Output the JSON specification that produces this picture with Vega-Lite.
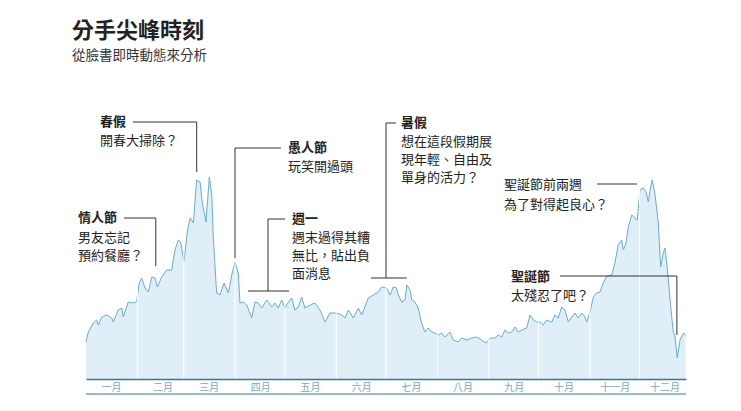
{
  "$schema": "https://vega.github.io/schema/vega-lite/v6.json",
  "width": 600,
  "height": 279,
  "autosize": "none",
  "padding": {"left": 86, "top": 100, "right": 55, "bottom": 32},
  "background": "white",
  "config": {"view": {"stroke": null}, "font": "Noto Sans CJK TC"},
  "title": {
    "text": "分手尖峰時刻",
    "subtitle": "從臉書即時動態來分析",
    "anchor": "start",
    "frame": "group",
    "offset": 36,
    "dx": -14,
    "font": "Noto Sans CJK TC",
    "subtitleFont": "Noto Sans CJK TC",
    "fontSize": 22,
    "fontWeight": "bold",
    "subtitleFontSize": 13.5,
    "color": "#222222",
    "subtitleColor": "#333333",
    "subtitlePadding": 6
  },
  "datasets": {
    "series": [
      {"day": 0, "value": 37}, {"day": 1.4, "value": 47}, {"day": 4.4, "value": 56}, {"day": 6.4, "value": 59}, {"day": 7.4, "value": 54},
      {"day": 9.5, "value": 62}, {"day": 12.5, "value": 64}, {"day": 15.5, "value": 61}, {"day": 16.5, "value": 57}, {"day": 19.4, "value": 69},
      {"day": 21.5, "value": 71}, {"day": 22.5, "value": 62}, {"day": 25.5, "value": 77}, {"day": 28.6, "value": 76}, {"day": 30.5, "value": 77},
      {"day": 32.1, "value": 96}, {"day": 33.6, "value": 101}, {"day": 35.6, "value": 91}, {"day": 37.6, "value": 87}, {"day": 39.7, "value": 102},
      {"day": 41.7, "value": 101}, {"day": 43.0, "value": 92}, {"day": 45.7, "value": 102}, {"day": 48.7, "value": 109}, {"day": 51.7, "value": 109},
      {"day": 53.7, "value": 129}, {"day": 55.7, "value": 139}, {"day": 57.1, "value": 137}, {"day": 59.1, "value": 117}, {"day": 61.1, "value": 147},
      {"day": 62.8, "value": 161}, {"day": 64.8, "value": 156}, {"day": 66.7, "value": 199}, {"day": 68.8, "value": 197}, {"day": 70.2, "value": 176},
      {"day": 72.4, "value": 157}, {"day": 74.4, "value": 202}, {"day": 75.9, "value": 184}, {"day": 76.8, "value": 142}, {"day": 78.8, "value": 86},
      {"day": 80.8, "value": 84}, {"day": 83.3, "value": 96}, {"day": 85.9, "value": 86}, {"day": 87.9, "value": 104}, {"day": 89.9, "value": 117},
      {"day": 91.9, "value": 106}, {"day": 92.9, "value": 76}, {"day": 94.9, "value": 77}, {"day": 97.0, "value": 74}, {"day": 100.0, "value": 61},
      {"day": 101.9, "value": 77}, {"day": 103.9, "value": 76}, {"day": 106.0, "value": 71}, {"day": 109.0, "value": 79}, {"day": 112.1, "value": 72},
      {"day": 114.0, "value": 76}, {"day": 116.0, "value": 71}, {"day": 118.1, "value": 79}, {"day": 120.1, "value": 71}, {"day": 122.1, "value": 77},
      {"day": 124.1, "value": 81}, {"day": 126.0, "value": 69}, {"day": 128.1, "value": 72}, {"day": 130.1, "value": 82}, {"day": 132.1, "value": 71},
      {"day": 135.2, "value": 74}, {"day": 138.1, "value": 76}, {"day": 141.2, "value": 69}, {"day": 144.2, "value": 57}, {"day": 147.2, "value": 66},
      {"day": 151.2, "value": 66}, {"day": 154.3, "value": 64}, {"day": 156.3, "value": 61}, {"day": 158.3, "value": 69}, {"day": 161.3, "value": 61},
      {"day": 164.3, "value": 71}, {"day": 166.3, "value": 64}, {"day": 168.3, "value": 72}, {"day": 170.3, "value": 81}, {"day": 173.4, "value": 84},
      {"day": 176.3, "value": 87}, {"day": 178.4, "value": 92}, {"day": 181.4, "value": 91}, {"day": 183.4, "value": 84}, {"day": 185.4, "value": 92},
      {"day": 187.4, "value": 91}, {"day": 188.4, "value": 84}, {"day": 190.5, "value": 77}, {"day": 192.5, "value": 79}, {"day": 193.5, "value": 94},
      {"day": 195.5, "value": 89}, {"day": 196.5, "value": 79}, {"day": 198.4, "value": 77}, {"day": 200.4, "value": 71}, {"day": 202.5, "value": 56},
      {"day": 204.5, "value": 47}, {"day": 206.5, "value": 51}, {"day": 208.6, "value": 47}, {"day": 210.5, "value": 46}, {"day": 212.5, "value": 44},
      {"day": 214.6, "value": 46}, {"day": 216.6, "value": 42}, {"day": 219.6, "value": 47}, {"day": 221.5, "value": 39}, {"day": 224.6, "value": 37},
      {"day": 226.6, "value": 41}, {"day": 229.7, "value": 39}, {"day": 232.7, "value": 41}, {"day": 235.7, "value": 42}, {"day": 238.7, "value": 39},
      {"day": 241.3, "value": 36}, {"day": 243.8, "value": 41}, {"day": 246.7, "value": 41}, {"day": 248.7, "value": 44}, {"day": 250.8, "value": 42},
      {"day": 252.8, "value": 49}, {"day": 254.8, "value": 46}, {"day": 256.9, "value": 47}, {"day": 258.8, "value": 52}, {"day": 260.8, "value": 47},
      {"day": 262.9, "value": 49}, {"day": 265.9, "value": 51}, {"day": 267.9, "value": 64}, {"day": 269.9, "value": 59}, {"day": 271.9, "value": 57},
      {"day": 273.9, "value": 57}, {"day": 275.9, "value": 54}, {"day": 277.9, "value": 59}, {"day": 281.0, "value": 57}, {"day": 282.9, "value": 64},
      {"day": 284.9, "value": 61}, {"day": 287.0, "value": 72}, {"day": 289.0, "value": 69}, {"day": 291.0, "value": 57}, {"day": 293.1, "value": 62},
      {"day": 295.0, "value": 66}, {"day": 297.0, "value": 61}, {"day": 299.1, "value": 66}, {"day": 301.1, "value": 62}, {"day": 302.1, "value": 57},
      {"day": 304.1, "value": 67}, {"day": 306.1, "value": 82}, {"day": 308.1, "value": 86}, {"day": 310.1, "value": 87}, {"day": 312.1, "value": 96},
      {"day": 314.2, "value": 103}, {"day": 317.2, "value": 104}, {"day": 319.1, "value": 116}, {"day": 321.1, "value": 134}, {"day": 323.2, "value": 139},
      {"day": 324.2, "value": 129}, {"day": 325.8, "value": 136}, {"day": 327.2, "value": 152}, {"day": 329.3, "value": 164}, {"day": 331.2, "value": 161},
      {"day": 332.6, "value": 159}, {"day": 334.2, "value": 189}, {"day": 336.2, "value": 191}, {"day": 337.9, "value": 187}, {"day": 339.3, "value": 177},
      {"day": 340.3, "value": 189}, {"day": 341.6, "value": 199}, {"day": 343.2, "value": 186}, {"day": 345.3, "value": 156}, {"day": 346.7, "value": 112},
      {"day": 348.3, "value": 126}, {"day": 349.3, "value": 131}, {"day": 350.7, "value": 111}, {"day": 352.8, "value": 72}, {"day": 354.3, "value": 47},
      {"day": 355.3, "value": 44}, {"day": 356.7, "value": 21}, {"day": 358.4, "value": 39}, {"day": 360.4, "value": 46}, {"day": 361.8, "value": 44}
    ],
    "months": [
      {"day": 31}, {"day": 59}, {"day": 90}, {"day": 120}, {"day": 151}, {"day": 181},
      {"day": 212}, {"day": 243}, {"day": 273}, {"day": 304}, {"day": 334}
    ],
    "heads": [
      {"day": -4.8, "value": 161, "label": "情人節"},
      {"day": 8.4, "value": 257, "label": "春假"},
      {"day": 121.9, "value": 231, "label": "愚人節"},
      {"day": 124.3, "value": 160, "label": "週一"},
      {"day": 190.0, "value": 256, "label": "暑假"},
      {"day": 256.4, "value": 102, "label": "聖誕節"}
    ],
    "bodies": [
      {"day": -4.8, "value": 141, "label": "男友忘記"},
      {"day": -4.8, "value": 123, "label": "預約餐廳？"},
      {"day": 8.4, "value": 238, "label": "開春大掃除？"},
      {"day": 121.9, "value": 212, "label": "玩笑開過頭"},
      {"day": 124.3, "value": 141, "label": "週末過得其糟"},
      {"day": 124.3, "value": 123, "label": "無比，貼出負"},
      {"day": 124.3, "value": 105, "label": "面消息"},
      {"day": 190.0, "value": 237, "label": "想在這段假期展"},
      {"day": 190.0, "value": 219, "label": "現年輕、自由及"},
      {"day": 190.0, "value": 201, "label": "單身的活力？"},
      {"day": 252.2, "value": 194, "label": "聖誕節前兩週"},
      {"day": 252.2, "value": 174, "label": "為了對得起良心？"},
      {"day": 256.4, "value": 83, "label": "太殘忍了吧？"}
    ],
    "leaders": [
      {"x1": 22.9, "x2": 42.1, "y1": 161, "y2": 161},
      {"x1": 42.1, "x2": 42.1, "y1": 161, "y2": 113},
      {"x1": 28.2, "x2": 66.8, "y1": 257, "y2": 257},
      {"x1": 66.8, "x2": 66.8, "y1": 257, "y2": 207},
      {"x1": 89.9, "x2": 117.6, "y1": 231, "y2": 231},
      {"x1": 89.9, "x2": 89.9, "y1": 231, "y2": 121},
      {"x1": 109.8, "x2": 120.1, "y1": 160, "y2": 160},
      {"x1": 109.8, "x2": 109.8, "y1": 160, "y2": 88},
      {"x1": 97.7, "x2": 122.5, "y1": 88, "y2": 88},
      {"x1": 181.0, "x2": 187.0, "y1": 256, "y2": 256},
      {"x1": 181.0, "x2": 181.0, "y1": 256, "y2": 101},
      {"x1": 171.9, "x2": 193.5, "y1": 101, "y2": 101},
      {"x1": 308.3, "x2": 332.4, "y1": 195, "y2": 195},
      {"x1": 285.9, "x2": 356.5, "y1": 103, "y2": 103},
      {"x1": 356.5, "x2": 356.5, "y1": 103, "y2": 44}
    ],
    "baseline": [
      {"x1": 0, "x2": 362, "y1": -15}
    ]
  },
  "layer": [
    {
      "data": {"name": "series"},
      "mark": {"type": "area", "color": "#d3e8f3", "line": {"color": "#6aaccc", "strokeWidth": 1}},
      "encoding": {
        "x": {
          "field": "day", "type": "quantitative",
          "scale": {"domain": [0, 362], "nice": false, "zero": false},
          "axis": {
            "title": null,
            "values": [0, 31, 59, 90, 120, 151, 181, 212, 243, 273, 304, 334],
            "labelExpr": "['一月','二月','三月','四月','五月','六月','七月','八月','九月','十月','十一月','十二月'][indexof([0,31,59,90,120,151,181,212,243,273,304,334], datum.value)]",
            "labelOffset": 25,
            "labelAlign": "center",
            "labelFontSize": 10,
            "labelColor": "#7fa5b8",
            "labelFont": "Noto Sans CJK TC",
            "labelPadding": 3,
            "ticks": false,
            "domainColor": "#2f7d95",
            "domainWidth": 1.5,
            "grid": false,
            "zindex": 1
          }
        },
        "y": {
          "field": "value", "type": "quantitative",
          "scale": {"domain": [0, 279], "nice": false},
          "axis": null
        }
      }
    },
    {
      "data": {"name": "months"},
      "mark": {"type": "rule", "color": "#ffffff", "strokeWidth": 1},
      "encoding": {
        "x": {"field": "day", "type": "quantitative"}
      }
    },
    {
      "data": {"name": "leaders"},
      "mark": {"type": "rule", "color": "#333333", "strokeWidth": 1},
      "encoding": {
        "x": {"field": "x1", "type": "quantitative"},
        "x2": {"field": "x2"},
        "y": {"field": "y1", "type": "quantitative"},
        "y2": {"field": "y2"}
      }
    },
    {
      "data": {"name": "baseline"},
      "mark": {"type": "rule", "color": "#2f7d95", "strokeWidth": 1.2},
      "encoding": {
        "x": {"field": "x1", "type": "quantitative"},
        "x2": {"field": "x2"},
        "y": {"field": "y1", "type": "quantitative"}
      }
    },
    {
      "data": {"name": "heads"},
      "mark": {"type": "text", "align": "left", "baseline": "middle", "fontSize": 13, "fontWeight": "bold", "color": "#222222", "font": "Noto Sans CJK TC"},
      "encoding": {
        "x": {"field": "day", "type": "quantitative"},
        "y": {"field": "value", "type": "quantitative"},
        "text": {"field": "label"}
      }
    },
    {
      "data": {"name": "bodies"},
      "mark": {"type": "text", "align": "left", "baseline": "middle", "fontSize": 13, "color": "#222222", "font": "Noto Sans CJK TC"},
      "encoding": {
        "x": {"field": "day", "type": "quantitative"},
        "y": {"field": "value", "type": "quantitative"},
        "text": {"field": "label"}
      }
    }
  ]
}
